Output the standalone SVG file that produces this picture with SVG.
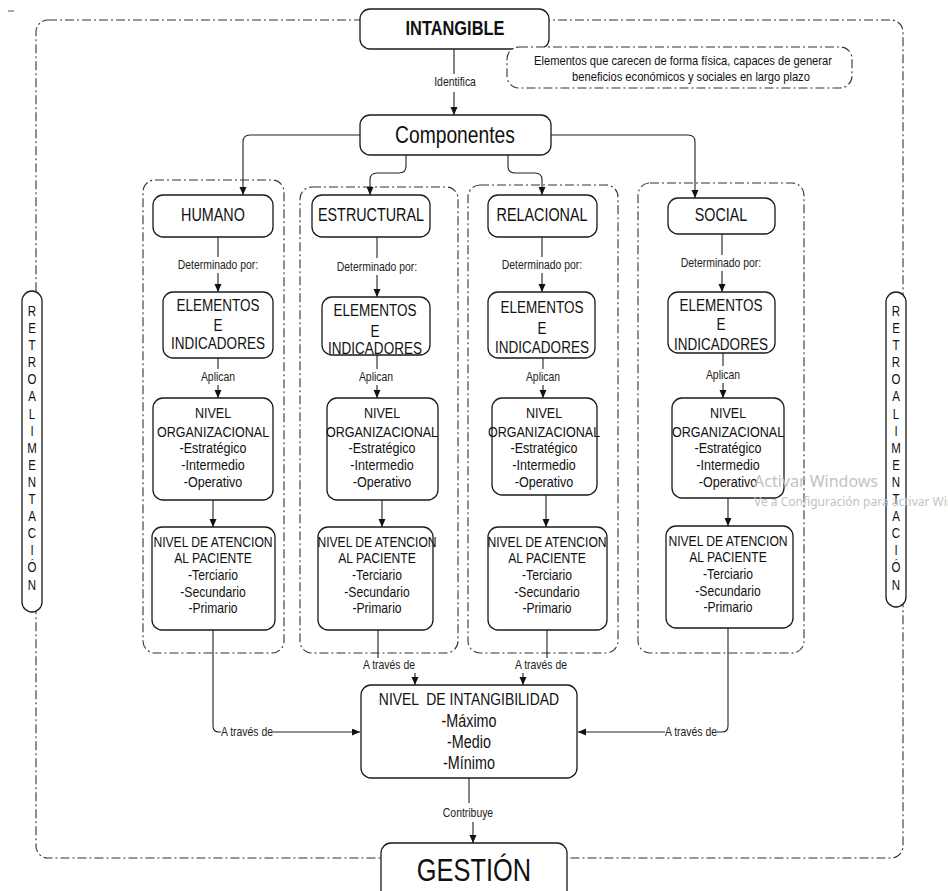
<svg xmlns="http://www.w3.org/2000/svg" width="948" height="891" viewBox="0 0 948 891">
<defs>
<marker id="ah" markerUnits="userSpaceOnUse" markerWidth="9" markerHeight="8" refX="8" refY="3.5" orient="auto">
<path d="M0,0 L8,3.5 L0,7 z" fill="#111"/>
</marker>
<style>
.box{fill:#fff;stroke:#1a1a1a;stroke-width:1.3}
.dash{fill:none;stroke:#333;stroke-width:1.1;stroke-dasharray:9 3 2 3}
.dashw{fill:#fff;stroke:#333;stroke-width:1.1;stroke-dasharray:9 3 2 3}
.c{fill:none;stroke:#222;stroke-width:1.1}
.a{fill:none;stroke:#222;stroke-width:1.1;marker-end:url(#ah)}
text{font-family:"Liberation Sans Narrow","Liberation Sans",Arial,sans-serif;fill:#111;text-anchor:middle;transform-box:fill-box;transform-origin:center;transform:scaleX(0.82)}
.lbl{font-size:12.7px;fill:#222}
.h{font-size:17.5px}
.e{font-size:16.5px}
.o{font-size:15.3px}
.n{font-size:14.8px}
.r{font-size:14px}
text.wm{font-family:"Noto Sans","Open Sans",sans-serif;fill:#c2c2c2;text-anchor:start;transform:none}
</style>
</defs>
<rect width="948" height="891" fill="#fff"/>
<line x1="8" y1="11" x2="14" y2="11" stroke="#555" stroke-width="1"/>

<!-- outer frame -->
<g id="frame">
<rect class="dash" x="36" y="20" width="867" height="838" rx="12"/>
</g>

<!-- column groups -->
<g id="columns">
<rect class="dash" x="143" y="180" width="141" height="473" rx="12"/>
<rect class="dash" x="300" y="187" width="158" height="466" rx="12"/>
<rect class="dash" x="468" y="185" width="150" height="468" rx="12"/>
<rect class="dash" x="638" y="183" width="166" height="470" rx="12"/>
</g>

<!-- connectors -->
<g id="connectors">
<path class="c" d="M454 49 V74"/>
<path class="a" d="M454 92 V115"/>
<path class="a" d="M360 135 H250 Q243 135 243 142 V195"/>
<path class="a" d="M551 135 H688 Q695 135 695 142 V198"/>
<path class="a" d="M406 155 V166 Q406 173 399 173 H377 Q370 173 370 180 V195"/>
<path class="a" d="M508 155 V166 Q508 173 515 173 H535 Q542 173 542 180 V195"/>
<!-- col1 -->
<path class="c" d="M218 237 V257"/>
<path class="a" d="M218 273 V292"/>
<path class="c" d="M218 358 V369"/>
<path class="a" d="M218 385 V398"/>
<path class="a" d="M213 500 V527"/>
<path class="c" d="M213 630 V726 Q213 732 219 732 H221"/>
<path class="a" d="M273 732 H360"/>
<!-- col2 -->
<path class="c" d="M377 237 V258"/>
<path class="a" d="M377 275 V297"/>
<path class="c" d="M377 355 V369"/>
<path class="a" d="M377 385 V398"/>
<path class="a" d="M382 500 V527"/>
<path class="c" d="M378 630 V658"/>
<path class="a" d="M415 673 V685"/>
<!-- col3 -->
<path class="c" d="M542 237 V257"/>
<path class="a" d="M542 273 V292"/>
<path class="c" d="M543 358 V369"/>
<path class="a" d="M543 385 V398"/>
<path class="a" d="M546 495 V527"/>
<path class="c" d="M547 630 V658"/>
<path class="a" d="M523 673 V685"/>
<!-- col4 -->
<path class="c" d="M722 234 V255"/>
<path class="a" d="M722 271 V292"/>
<path class="c" d="M723 353 V366"/>
<path class="a" d="M723 383 V398"/>
<path class="a" d="M728 498 V526"/>
<path class="c" d="M728 628 V726 Q728 732 722 732 H717"/>
<path class="a" d="M665 732 H578"/>
<!-- bottom -->
<path class="c" d="M469 778 V803"/>
<path class="a" d="M473 822 V843"/>
<text class="lbl" x="455" y="86">Identifica</text>
<text class="lbl" x="218" y="269">Determinado por:</text>
<text class="lbl" x="377" y="271">Determinado por:</text>
<text class="lbl" x="542" y="269">Determinado por:</text>
<text class="lbl" x="721" y="267">Determinado por:</text>
<text class="lbl" x="218" y="381">Aplican</text>
<text class="lbl" x="376" y="381">Aplican</text>
<text class="lbl" x="543" y="381">Aplican</text>
<text class="lbl" x="723" y="379">Aplican</text>
<text class="lbl" x="247" y="736">A través de</text>
<text class="lbl" x="389" y="669">A través de</text>
<text class="lbl" x="541" y="669">A través de</text>
<text class="lbl" x="691" y="736">A través de</text>
<text class="lbl" x="468" y="817">Contribuye</text>
</g>

<g id="intangible">
<rect class="box" x="360" y="9" width="189" height="40" rx="10"/>
<text x="455" y="35" style="font-size:20px;font-weight:bold">INTANGIBLE</text>
</g>
<g id="nota">
<rect class="dashw" x="507" y="47" width="345" height="41" rx="12"/>
<text x="683" y="65" style="font-size:13.6px">Elementos que carecen de forma física, capaces de generar</text>
<text x="691" y="81" style="font-size:13.6px">beneficios económicos y sociales en largo plazo</text>
</g>
<g id="componentes">
<rect class="box" x="360" y="115" width="191" height="40" rx="10"/>
<text x="455" y="143" style="font-size:23.5px">Componentes</text>
</g>

<g id="humano">
<rect class="box" x="153" y="195" width="120" height="42" rx="10"/>
<text class="h" x="213" y="221">HUMANO</text>
</g>
<g id="estructural">
<rect class="box" x="312" y="195" width="118" height="42" rx="10"/>
<text class="h" x="371" y="221">ESTRUCTURAL</text>
</g>
<g id="relacional">
<rect class="box" x="488" y="195" width="109" height="42" rx="10"/>
<text class="h" x="542" y="221">RELACIONAL</text>
</g>
<g id="social">
<rect class="box" x="668" y="198" width="107" height="36" rx="10"/>
<text class="h" x="721" y="221">SOCIAL</text>
</g>

<g id="elementos-humano">
<rect class="box" x="163" y="292" width="110" height="66" rx="10"/>
<text class="e" x="218" y="311">ELEMENTOS</text>
<text class="e" x="218" y="331">E</text>
<text class="e" x="218" y="349">INDICADORES</text>
</g>
<g id="elementos-estructural">
<rect class="box" x="322" y="297" width="108" height="58" rx="10"/>
<text class="e" x="375" y="316">ELEMENTOS</text>
<text class="e" x="375" y="337">E</text>
<text class="e" x="375" y="354">INDICADORES</text>
</g>
<g id="elementos-relacional">
<rect class="box" x="488" y="292" width="107" height="66" rx="10"/>
<text class="e" x="542" y="313">ELEMENTOS</text>
<text class="e" x="542" y="334">E</text>
<text class="e" x="542" y="353">INDICADORES</text>
</g>
<g id="elementos-social">
<rect class="box" x="668" y="292" width="107" height="61" rx="10"/>
<text class="e" x="721" y="311">ELEMENTOS</text>
<text class="e" x="721" y="330">E</text>
<text class="e" x="721" y="350">INDICADORES</text>
</g>

<g id="org-humano">
<rect class="box" x="153" y="398" width="120" height="102" rx="10"/>
<text class="o" x="213" y="418">NIVEL</text>
<text class="o" x="213" y="437">ORGANIZACIONAL</text>
<text class="o" x="213" y="453">-Estratégico</text>
<text class="o" x="213" y="470">-Intermedio</text>
<text class="o" x="213" y="487">-Operativo</text>
</g>
<g id="org-estructural">
<rect class="box" x="327" y="398" width="111" height="102" rx="10"/>
<text class="o" x="382" y="418">NIVEL</text>
<text class="o" x="382" y="437">ORGANIZACIONAL</text>
<text class="o" x="382" y="453">-Estratégico</text>
<text class="o" x="382" y="470">-Intermedio</text>
<text class="o" x="382" y="487">-Operativo</text>
</g>
<g id="org-relacional">
<rect class="box" x="492" y="398" width="105" height="97" rx="10"/>
<text class="o" x="544" y="418">NIVEL</text>
<text class="o" x="544" y="437">ORGANIZACIONAL</text>
<text class="o" x="544" y="453">-Estratégico</text>
<text class="o" x="544" y="470">-Intermedio</text>
<text class="o" x="544" y="487">-Operativo</text>
</g>
<g id="org-social">
<rect class="box" x="672" y="398" width="112" height="100" rx="10"/>
<text class="o" x="728" y="418">NIVEL</text>
<text class="o" x="728" y="437">ORGANIZACIONAL</text>
<text class="o" x="728" y="453">-Estratégico</text>
<text class="o" x="728" y="470">-Intermedio</text>
<text class="o" x="728" y="487">-Operativo</text>
</g>

<g id="atencion-humano">
<rect class="box" x="152" y="527" width="123" height="103" rx="10"/>
<text class="n" x="213" y="547">NIVEL DE ATENCION</text>
<text class="n" x="213" y="563">AL PACIENTE</text>
<text class="n" x="213" y="580">-Terciario</text>
<text class="n" x="213" y="597">-Secundario</text>
<text class="n" x="213" y="613">-Primario</text>
</g>
<g id="atencion-estructural">
<rect class="box" x="318" y="527" width="115" height="103" rx="10"/>
<text class="n" x="377" y="547">NIVEL DE ATENCION</text>
<text class="n" x="377" y="563">AL PACIENTE</text>
<text class="n" x="377" y="580">-Terciario</text>
<text class="n" x="377" y="597">-Secundario</text>
<text class="n" x="377" y="613">-Primario</text>
</g>
<g id="atencion-relacional">
<rect class="box" x="488" y="527" width="119" height="103" rx="10"/>
<text class="n" x="547" y="547">NIVEL DE ATENCION</text>
<text class="n" x="547" y="563">AL PACIENTE</text>
<text class="n" x="547" y="580">-Terciario</text>
<text class="n" x="547" y="597">-Secundario</text>
<text class="n" x="547" y="613">-Primario</text>
</g>
<g id="atencion-social">
<rect class="box" x="666" y="526" width="127" height="102" rx="10"/>
<text class="n" x="728" y="546">NIVEL DE ATENCION</text>
<text class="n" x="728" y="562">AL PACIENTE</text>
<text class="n" x="728" y="579">-Terciario</text>
<text class="n" x="728" y="596">-Secundario</text>
<text class="n" x="728" y="612">-Primario</text>
</g>

<g id="intangibilidad">
<rect class="box" x="361" y="685" width="216" height="93" rx="10"/>
<text x="469" y="705" style="font-size:17px;white-space:pre" xml:space="preserve">NIVEL  DE INTANGIBILIDAD</text>
<text x="469" y="727" style="font-size:17.5px">-Máximo</text>
<text x="469" y="748" style="font-size:17.5px">-Medio</text>
<text x="469" y="769" style="font-size:17.5px">-Mínimo</text>
</g>

<g id="gestion">
<rect class="box" x="381" y="843" width="186" height="60" rx="10"/>
<text x="474" y="881" style="font-size:31px">GESTIÓN</text>
</g>

<g id="retro-izq">
<rect class="box" x="22" y="291" width="20" height="321" rx="10"/>
<text class="r" x="32" y="316">R<tspan x="32" dy="17.1">E</tspan><tspan x="32" dy="17.1">T</tspan><tspan x="32" dy="17.1">R</tspan><tspan x="32" dy="17.1">O</tspan><tspan x="32" dy="17.1">A</tspan><tspan x="32" dy="17.1">L</tspan><tspan x="32" dy="17.1">I</tspan><tspan x="32" dy="17.1">M</tspan><tspan x="32" dy="17.1">E</tspan><tspan x="32" dy="17.1">N</tspan><tspan x="32" dy="17.1">T</tspan><tspan x="32" dy="17.1">A</tspan><tspan x="32" dy="17.1">C</tspan><tspan x="32" dy="17.1">I</tspan><tspan x="32" dy="17.1">Ó</tspan><tspan x="32" dy="17.1">N</tspan></text>
</g>
<g id="retro-der">
<rect class="box" x="886" y="292" width="20" height="315" rx="10"/>
<text class="r" x="896" y="316">R<tspan x="896" dy="17.1">E</tspan><tspan x="896" dy="17.1">T</tspan><tspan x="896" dy="17.1">R</tspan><tspan x="896" dy="17.1">O</tspan><tspan x="896" dy="17.1">A</tspan><tspan x="896" dy="17.1">L</tspan><tspan x="896" dy="17.1">I</tspan><tspan x="896" dy="17.1">M</tspan><tspan x="896" dy="17.1">E</tspan><tspan x="896" dy="17.1">N</tspan><tspan x="896" dy="17.1">T</tspan><tspan x="896" dy="17.1">A</tspan><tspan x="896" dy="17.1">C</tspan><tspan x="896" dy="17.1">I</tspan><tspan x="896" dy="17.1">Ó</tspan><tspan x="896" dy="17.1">N</tspan></text>
</g>

<g id="watermark">
<text class="wm" x="754" y="487" style="font-size:16px">Activar Windows</text>
<text class="wm" x="754" y="506" style="font-size:12px">Ve a Configuración para activar Windows.</text>
</g>
</svg>
